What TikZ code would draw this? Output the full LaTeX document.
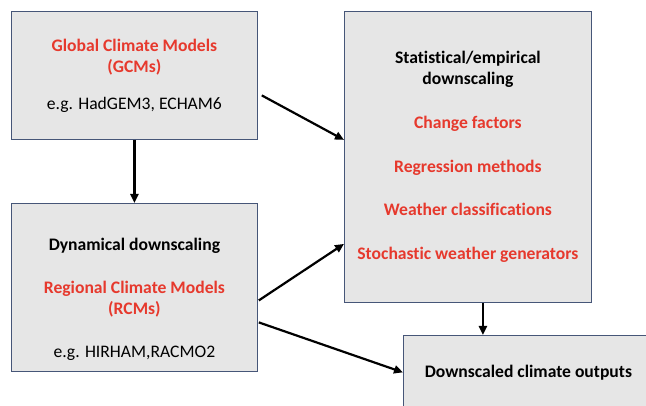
\documentclass[tikz,border=0pt]{standalone}
\usepackage{fontspec}
\setmainfont{Carlito}[Ligatures=NoCommon]
\usepackage{xcolor}
\usetikzlibrary{arrows.meta}

\definecolor{boxfill}{RGB}{230,230,230}
\definecolor{boxline}{RGB}{70,86,120}
\definecolor{modelred}{RGB}{230,57,45}

\newcommand{\rtxt}[1]{\textcolor{modelred}{\textbf{#1}}}

\begin{document}
\begin{tikzpicture}[
        x=1pt, y=-1pt,
        box/.style={draw=boxline, fill=boxfill, line width=0.8pt, anchor=north west,
            inner sep=0pt, align=center, font=\fontsize{17.6}{21}\selectfont},
        flow/.style={line width=2.2pt, -{Triangle[length=9pt,width=8pt]}}
    ]
        \useasboundingbox (0,0) rectangle (646,406);
        \clip (0,0) rectangle (646,406);

        \node[box, minimum width=246pt, minimum height=128pt] (gcm) at (11,11)
            {\rtxt{Global Climate Models}\\ \rtxt{(GCMs)}\\[16pt] e.g. HadGEM3, ECHAM6};

        \node[box, minimum width=246pt, minimum height=168pt] (rcm) at (11,203) {};
        \node[align=center, font=\fontsize{17.6}{21}\selectfont] (rcmtxt) at ([yshift=-12pt]rcm.center)
            {\textbf{Dynamical downscaling}\\[22pt] \rtxt{Regional Climate Models}\\ \rtxt{(RCMs)}\\[22pt] e.g. HIRHAM,RACMO2};

        \node[box, minimum width=247pt, minimum height=291pt] (stat) at (344,11)
            {\textbf{Statistical/empirical}\\ \textbf{downscaling}\\[23pt]
             \rtxt{Change factors}\\[22.5pt]
             \rtxt{Regression methods}\\[22.5pt]
             \rtxt{Weather classifications}\\[22.5pt]
             \rtxt{Stochastic weather generators}};

        \node[box, minimum width=250pt, minimum height=74pt] (out) at (403,335)
            {\textbf{Downscaled climate outputs}};

        % arrows between the boxes
        \draw[flow] (gcm.south) -- (rcm.north);
        \draw[flow] ([xshift=4pt,yshift=-20pt]gcm.east) -- ([yshift=17pt]stat.west);
        \draw[flow] ([xshift=1pt,yshift=-13pt]rcm.east) -- ([yshift=-87pt]stat.west);
        \draw[flow] ([xshift=1pt,yshift=-35pt]rcm.east) -- (out.west);
        \draw[flow] ([xshift=15pt]stat.south) -- ([xshift=15pt]stat.south |- out.north);
    \end{tikzpicture}
\end{document}
